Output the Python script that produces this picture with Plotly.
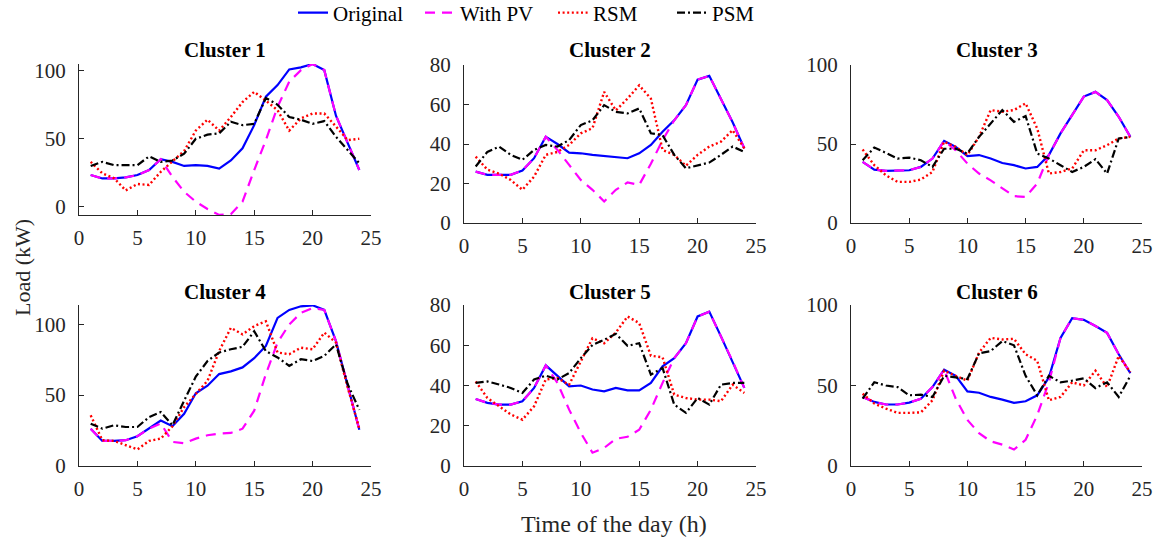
import plotly.graph_objects as go
from plotly.subplots import make_subplots

hours = list(range(1, 25))
series_names = ["Original", "With PV", "RSM", "PSM"]
cluster_titles = ["Cluster 1", "Cluster 2", "Cluster 3", "Cluster 4", "Cluster 5", "Cluster 6"]

c1_original = [23.3, 20.8, 20.8, 21.6, 23.3, 27, 35, 33, 30, 30.6, 30, 28, 34, 43, 60, 81, 89.5, 101, 102.5, 105, 100.5, 67, 47, 27]
c1_pv = [23.3, 20.8, 20.8, 21.6, 23.3, 27, 35, 22, 11, 3.7, -1.7, -6, -5.5, 3.7, 27, 49, 73.5, 92, 100.5, 105, 100.5, 67, 47, 27]
c1_rsm = [33, 24.5, 21, 12, 16.7, 16, 25.7, 33, 41, 56, 64, 56, 66, 77, 84.5, 78, 71, 56, 65, 68.6, 68.6, 59, 49, 50]
c1_psm = [30, 33, 30.6, 30.6, 30.6, 37, 33, 34, 39, 50, 53, 54, 62.5, 60, 61, 80, 75, 66, 64, 61, 63, 51.5, 41.7, 32]

c2_original = [26, 24.4, 24.4, 24.4, 26.6, 32.8, 43.7, 40, 35.6, 35.3, 34.5, 34, 33.3, 32.8, 35.3, 39.5, 46.2, 52, 59.7, 72.6, 74.5, 63, 51, 37.8]
c2_pv = [26, 24.4, 24.4, 24.4, 26.6, 32.8, 43.7, 37, 29.4, 21.8, 16.8, 10.9, 16.8, 20.5, 19.3, 30, 42, 52, 59.7, 72.6, 74.5, 63, 51, 37.8]
c2_rsm = [33.6, 27, 25, 21.8, 16.8, 23.5, 34.5, 36, 39.5, 45.4, 48, 66.4, 57, 63, 69.7, 63, 37, 34.5, 29, 34.5, 38.7, 41.2, 47, 37.8]
c2_psm = [28.6, 36, 38.7, 34.5, 32, 37, 39.5, 38.7, 42, 49.6, 52, 59.7, 56.3, 55.5, 58, 45.4, 44.5, 34.5, 27.7, 29, 30.6, 34.5, 38.7, 36]

c3_original = [38.7, 33.8, 33, 33.4, 33.4, 35.5, 40.8, 52, 48.2, 42.3, 43, 40.8, 38, 36.6, 34.5, 35.5, 43, 56.7, 68.3, 80, 83, 77.8, 67.2, 54.5]
c3_pv = [38.7, 33.8, 33, 33.4, 33.4, 35.5, 40.8, 52, 46, 37.6, 31.3, 27, 21.8, 17, 16.5, 25, 43, 56.7, 68.3, 80, 83, 77.8, 67.2, 54.5]
c3_rsm = [46.5, 36.6, 30.2, 26, 26, 27.5, 32.3, 51.4, 48.2, 43, 54.5, 71.5, 70.4, 71.5, 75.7, 59.8, 31.3, 32.3, 34.5, 46, 46, 49.3, 53.5, 54.5]
c3_psm = [39.7, 47.8, 44.4, 40.8, 41.4, 39.7, 35.5, 47, 47, 44, 54.5, 63, 71.5, 64, 67.7, 44, 40.8, 36.6, 32.3, 35.5, 40.4, 31.3, 53.5, 54.5]

c4_original = [26.3, 17.7, 17.7, 18.2, 21, 26.3, 32, 28, 36.8, 51.3, 56.6, 64.8, 66.7, 69.5, 76, 84.6, 104.4, 110, 112.6, 113.3, 110, 88, 56.6, 25.6]
c4_pv = [26.3, 17.7, 17.7, 18.2, 21, 26.3, 30, 17, 16, 19.3, 21.7, 22.8, 23.3, 26.3, 39, 64.8, 87, 99.8, 108, 111.4, 110, 88, 56.6, 25.6]
c4_rsm = [35.7, 18.2, 17.7, 14.7, 11.7, 17.7, 19.3, 28, 41.5, 50.8, 60, 81, 97.4, 92.8, 98.6, 102, 80, 78.8, 83.4, 82.3, 94, 87, 55.5, 26.3]
c4_psm = [29.8, 26.3, 28.7, 27.5, 27.5, 34.5, 38, 28.7, 46, 63, 74, 80, 82.3, 84, 95, 81, 76.5, 70.6, 75.3, 74, 77.6, 85.8, 57.8, 39.6]

c5_original = [33.3, 31.4, 30.5, 30.5, 32.2, 38.8, 50, 44.6, 39.6, 40, 38, 37.1, 38.8, 37.6, 37.6, 41.3, 49.5, 53.6, 61, 74.3, 76.7, 64.4, 52, 38.8]
c5_pv = [33.3, 31.4, 30.5, 30.5, 32.2, 38.8, 50, 41.3, 28, 16.5, 6.6, 9, 13.5, 14.5, 18, 28, 41.3, 53.6, 61, 74.3, 76.7, 64.4, 52, 38.8]
c5_rsm = [42, 33.8, 29.7, 25.6, 23, 29.7, 43, 43.7, 40.4, 52, 63.5, 61, 66.3, 74.3, 71, 54.8, 54, 35.5, 33.8, 33, 33, 32.2, 40.4, 36.3]
c5_psm = [41.3, 42, 40.5, 38.8, 36.3, 43, 44.9, 43, 46.2, 53.6, 60.2, 62.7, 65.7, 59.7, 61, 45.4, 48.7, 30.5, 26.4, 33.8, 30.5, 40.4, 41.3, 41.3]

c6_original = [42.9, 39.8, 38.2, 38.2, 39.4, 41.8, 49, 59.8, 56, 46.3, 45.5, 42.9, 41.2, 39.2, 40.2, 43.9, 55, 79.6, 91.8, 90.8, 87, 82.7, 69.4, 57.6]
c6_pv = [42.9, 39.8, 38.2, 38.2, 39.4, 41.8, 49, 59.8, 41.8, 28.6, 20.4, 15.3, 13.3, 10.2, 16.3, 31.6, 52, 79.6, 91.8, 90.8, 87, 82.7, 69.4, 57.6]
c6_rsm = [44.9, 38.8, 35.7, 33, 33, 33.3, 40.8, 59.2, 56, 53, 70.4, 79.6, 78.6, 79, 69.4, 65.3, 40.8, 42.9, 52, 50, 59.2, 49, 68.4, 58.2]
c6_psm = [41.8, 52, 50, 49, 43.9, 44.3, 42.9, 56, 55, 54, 70, 71.4, 77.6, 75, 56, 43.9, 56, 52, 53, 54.5, 48.4, 52, 42.9, 56]

clusters = [
    (c1_original, c1_pv, c1_rsm, c1_psm),
    (c2_original, c2_pv, c2_rsm, c2_psm),
    (c3_original, c3_pv, c3_rsm, c3_psm),
    (c4_original, c4_pv, c4_rsm, c4_psm),
    (c5_original, c5_pv, c5_rsm, c5_psm),
    (c6_original, c6_pv, c6_rsm, c6_psm),
]
y_ranges = [[-6.1, 105], [0, 80], [0, 100], [0, 113.5], [0, 80], [0, 100]]
y_ticks = [[0, 50, 100], [0, 20, 40, 60, 80], [0, 50, 100], [0, 50, 100], [0, 20, 40, 60, 80], [0, 50, 100]]
x_ticks = [0, 5, 10, 15, 20, 25]

W, H = 1163, 548
col_px = [(79, 371), (464, 756), (851, 1142)]
row_px = [[(64, 215), (65, 223), (65, 223)], [(305, 466), (305, 466), (305, 466)]]
legend_text_px = [335, 462, 595, 714]

styles = [
    dict(color="#0000FF", width=2.2, dash="solid"),
    dict(color="#FF00FF", width=2.2, dash="10px,7px"),
    dict(color="#FF0000", width=2.4, dash="2px,2.6px"),
    dict(color="#000000", width=2.2, dash="8px,3px,2px,3px"),
]

FONT = "Liberation Serif"
AX = "#262626"
legend_keys = ["legend", "legend2", "legend3", "legend4"]

fig = make_subplots(rows=2, cols=3)

for i, data in enumerate(clusters):
    r, c = i // 3 + 1, i % 3 + 1
    for k, (vals, name) in enumerate(zip(data, series_names)):
        fig.add_trace(go.Scatter(x=hours, y=vals, mode="lines", name=name,
                                 line=styles[k], showlegend=(i == 0), legend=legend_keys[k]),
                      row=r, col=c)

annotations = []
for i in range(6):
    r, c = i // 3, i % 3
    x0, x1 = col_px[c]
    t, b = row_px[r][c]
    xd = [x0 / W, x1 / W]
    yd = [1 - b / H, 1 - t / H]
    n = i + 1
    xa = "xaxis" if n == 1 else f"xaxis{n}"
    ya = "yaxis" if n == 1 else f"yaxis{n}"
    fig.layout[xa].update(domain=xd, range=[0, 25], tickvals=x_ticks, showline=True,
                          linecolor=AX, linewidth=1, ticks="inside", ticklen=5, tickcolor=AX,
                          showgrid=False, zeroline=False, mirror=False, ticklabelstandoff=4,
                          tickfont=dict(family=FONT, size=21, color=AX))
    fig.layout[ya].update(domain=yd, range=y_ranges[i], tickvals=y_ticks[i], showline=True,
                          linecolor=AX, linewidth=1, ticks="inside", ticklen=5, tickcolor=AX,
                          showgrid=False, zeroline=False, mirror=False, ticklabelstandoff=8,
                          tickfont=dict(family=FONT, size=21, color=AX))
    title_y = 50 if r == 0 else 292
    annotations.append(dict(text="<b>" + cluster_titles[i] + "</b>", x=(x0 + x1) / 2 / W,
                            y=1 - title_y / H, xref="paper", yref="paper", showarrow=False,
                            xanchor="center", yanchor="middle",
                            font=dict(family=FONT, size=21, color="#000000")))

annotations.append(dict(text="Load (kW)", x=22 / W, y=1 - 268 / H, xref="paper", yref="paper",
                        showarrow=False, textangle=-90, xanchor="center", yanchor="middle",
                        font=dict(family=FONT, size=22, color=AX)))
annotations.append(dict(text="Time of the day (h)", x=614 / W, y=1 - 524 / H, xref="paper",
                        yref="paper", showarrow=False, xanchor="center", yanchor="middle",
                        font=dict(family=FONT, size=24, color=AX)))

legend_common = dict(orientation="h", xanchor="left", yanchor="middle", y=1 - 13 / H,
                     font=dict(family=FONT, size=21, color="#000000"),
                     bgcolor="rgba(0,0,0,0)", borderwidth=0)
legend_layout = {}
for k, key in enumerate(legend_keys):
    legend_layout[key] = dict(legend_common, x=(legend_text_px[k] - 42) / W)

fig.update_layout(
    width=W, height=H,
    margin=dict(l=0, r=0, t=0, b=0, autoexpand=False),
    font=dict(family=FONT, size=21, color=AX),
    paper_bgcolor="white", plot_bgcolor="white",
    annotations=annotations,
    showlegend=True,
    **legend_layout,
)

fig.write_html("out.html")
